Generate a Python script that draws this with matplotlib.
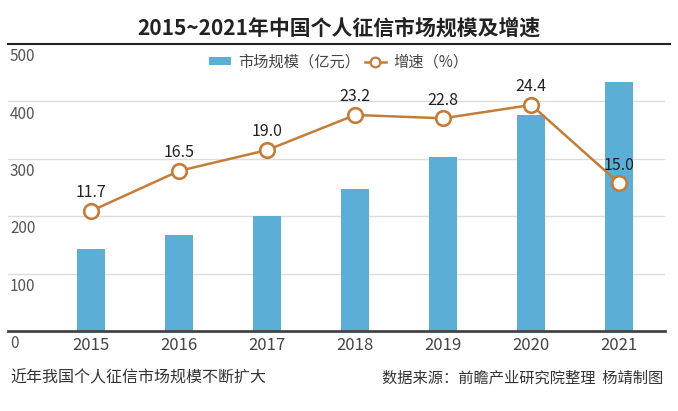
#chart: personal credit market size & growth
import matplotlib
matplotlib.use('Agg')
import matplotlib.pyplot as plt
from matplotlib.lines import Line2D
from matplotlib.patches import Patch
import matplotlib.transforms as mtransforms

plt.rcParams['font.family'] = ['Noto Sans CJK SC', 'DejaVu Sans']

years = ['2015', '2016', '2017', '2018', '2019', '2020', '2021']
market_size = [143, 167, 200, 247, 303, 377, 434]   # 亿元
growth = [11.7, 16.5, 19.0, 23.2, 22.8, 24.4, 15.0]  # %
y_ticks = [0, 100, 200, 300, 400, 500]

bar_color = '#5BAED6'
line_color = '#C47D38'

fig = plt.figure(figsize=(6.78, 4.11), dpi=100)
ax = fig.add_axes([0.0118, 0.1946, 0.9692, 0.6984])

x = list(range(len(years)))
ax.bar(x, market_size, width=0.32, color=bar_color, zorder=2)
ax.set_xlim(-0.943, 6.52)
ax.set_ylim(0, 500)

for v in y_ticks[1:-1]:
    ax.axhline(v, color='#DCDCDC', lw=1, zorder=1)

for s in ['left', 'right', 'top']:
    ax.spines[s].set_visible(False)
ax.spines['bottom'].set_color('#444444')
ax.spines['bottom'].set_linewidth(2)
# black rule under the title, a bit wider than the plot
fig.add_artist(Line2D([0.0118, 0.988], [0.893, 0.893], color='#222222', lw=1.5))

ax.set_yticks([])
ax.set_xticks(x)
ax.set_xticklabels(years, fontsize=12, color='#444444')
ax.tick_params(axis='x', length=0, pad=4)

# y labels sit just under each gridline
trans = mtransforms.blended_transform_factory(ax.transAxes, ax.transData)
for v in y_ticks:
    ax.annotate(str(v), xy=(0.003, v), xycoords=trans, xytext=(0, -3),
                textcoords='offset points', ha='left', va='top',
                fontsize=11, color='#555555')

ax2 = ax.twinx()
ax2.set_ylim(-2.67, 31.7)
ax2.axis('off')
ax2.plot(x, growth, color=line_color, lw=1.8, marker='o', markersize=10.5,
         markerfacecolor='white', markeredgecolor=line_color,
         markeredgewidth=1.9, zorder=3)
for xi, g in zip(x, growth):
    ax2.annotate(f'{g:.1f}', xy=(xi, g), xytext=(0, 7), textcoords='offset points',
                 ha='center', va='bottom', fontsize=11.5, color='#222222')

handles = [Patch(facecolor=bar_color, edgecolor='none'),
           Line2D([0], [0], color=line_color, lw=1.8, marker='o', markersize=7,
                  markerfacecolor='white', markeredgecolor=line_color,
                  markeredgewidth=1.6)]
fig.legend(handles, ['市场规模（亿元）', '增速（%）'], loc='center',
           bbox_to_anchor=(0.5, 0.849), ncol=2, frameon=False, fontsize=11,
           handlelength=1.4, handleheight=0.4, columnspacing=0.3,
           handletextpad=0.5, labelcolor='#444444')

fig.text(0.5, 0.932, '2015~2021年中国个人征信市场规模及增速', ha='center', va='center',
         fontsize=15, fontweight='bold', color='#222222')
fig.text(0.015, 0.08, '近年我国个人征信市场规模不断扩大', ha='left', va='center',
         fontsize=11.5, color='#333333')
fig.text(0.978, 0.08, '数据来源：前瞻产业研究院整理  杨靖制图', ha='right', va='center',
         fontsize=11, color='#333333')

fig.savefig('out.png', dpi=100)
